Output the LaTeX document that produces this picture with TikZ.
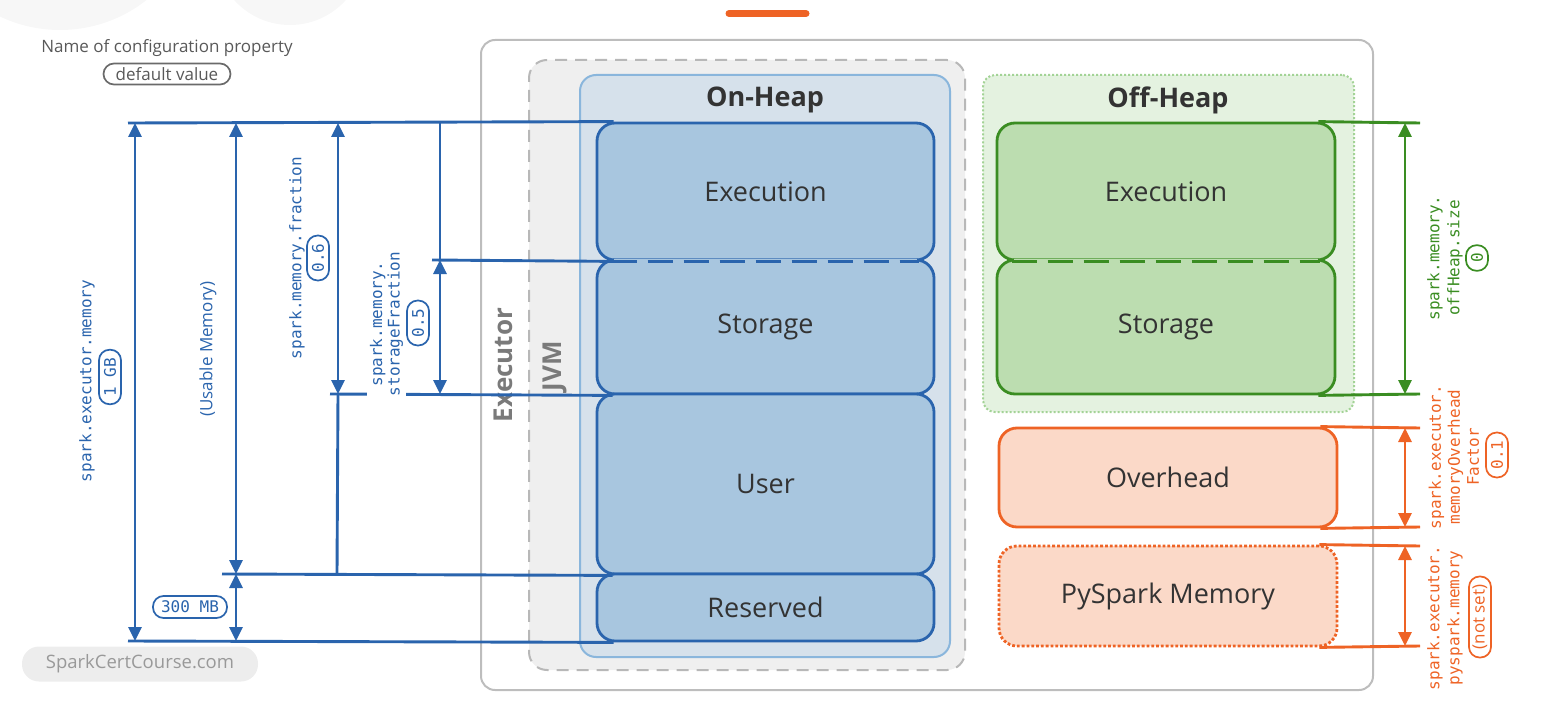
\documentclass[tikz,border=0pt]{standalone}
\usepackage{fontspec}
\setmainfont{Open Sans}
\setmonofont{DejaVu Sans Mono}
\usetikzlibrary{arrows.meta}
\definecolor{bstroke}{HTML}{2A64AD}
\definecolor{bfill}{HTML}{A8C6DF}
\definecolor{onfill}{HTML}{D6E1EB}
\definecolor{onstroke}{HTML}{8AB6DC}
\definecolor{jvmfill}{HTML}{EFEFEF}
\definecolor{jvmstroke}{HTML}{B8B8B8}
\definecolor{exstroke}{HTML}{BDBDBD}
\definecolor{gstroke}{HTML}{3A8D22}
\definecolor{gfill}{HTML}{BCDDB0}
\definecolor{offfill}{HTML}{E4F2E0}
\definecolor{offstroke}{HTML}{A3D396}
\definecolor{ostroke}{HTML}{EE6325}
\definecolor{ofill}{HTML}{FBD9C8}
\definecolor{txt}{HTML}{333333}
\definecolor{lbl}{HTML}{7A7A7A}
\definecolor{legtxt}{HTML}{595959}
\tikzset{
  memblk/.style={draw, line width=2.8pt, rounded corners=18pt, text=txt,
    font=\fontsize{27}{30}\selectfont, inner sep=0pt},
  heading/.style={text=txt, font=\bfseries\fontsize{27}{30}\selectfont},
  sidelbl/.style={text=lbl, font=\bfseries\fontsize{26}{30}\selectfont, rotate=90},
  dimline/.style={line width=2.9pt},
  dimarrow/.style={line width=2.9pt,
    {Triangle[width=13pt,length=14pt]}-{Triangle[width=13pt,length=14pt]}},
  rlbl/.style={rotate=90, align=center, font=\ttfamily\fontsize{16}{19}\selectfont, inner sep=1pt},
  pill/.style={draw, fill=white, line width=1.7pt, rounded corners=10.5pt, inner xsep=8pt,
    inner ysep=2pt, minimum height=22pt, font=\ttfamily\fontsize{16}{16}\selectfont},
  spill/.style={pill, font=\fontsize{17}{18}\selectfont},
  junction/.style={dash pattern=on 25pt off 11pt, line width=2.8pt}
}
\begin{document}
\begin{tikzpicture}[x=1pt,y=-1pt]
\useasboundingbox (0,0) rectangle (1543,706);
% faint background artefacts
\fill[black!3] (60,-110) circle (140);
\fill[black!3] (290,-50) circle (75);
% top orange bar
\coordinate (barL) at (729,13.5);
\coordinate (barR) at (806,13.5);
\draw[ostroke, line width=7pt, line cap=round] (barL) -- (barR);
% legend
\node[text=legtxt, font=\fontsize{17}{19}\selectfont] (legname) at (167,48) {Name of configuration property};
\node[spill, draw=legtxt!90, text=legtxt, minimum width=127pt, minimum height=21pt, inner xsep=4pt] (legval) at (167,74) {default value};
% watermark
\node[fill=black!7, rounded corners=17pt, minimum width=236pt, minimum height=35pt,
  text=black!40, font=\fontsize{18.5}{20}\selectfont] (wm) at (140,664) {SparkCertCourse.com};
% executor, jvm, on-heap containers
\draw[exstroke, line width=2pt, rounded corners=14pt] (481,40) rectangle (1373,690);
\node[draw=jvmstroke, fill=jvmfill, dash pattern=on 12pt off 8pt, line width=2pt, rounded corners=18pt,
  minimum width=436pt, minimum height=610pt] (jvm) at (747,365) {};
\node[sidelbl] (exlbl) at (503,365) {Executor};
\node[sidelbl] (jvmlbl) at (555,366) {JVM};
\node[draw=onstroke, fill=onfill, line width=2pt, rounded corners=16pt,
  minimum width=370pt, minimum height=582pt] (onheap) at (765,366) {};
\node[heading] (onlbl) at (765,100) {On-Heap};
\node[draw=offstroke, fill=offfill, dotted, line width=2pt, rounded corners=12pt,
  minimum width=371pt, minimum height=337pt] (offheap) at (1168.5,243.5) {};
\node[heading] (offlbl) at (1168,100) {Off-Heap};
% left horizontal reference lines (behind blocks)
\coordinate (h0) at (128,123);
\coordinate (h1) at (432,260);
\coordinate (h2) at (330,394);
\coordinate (h3) at (222,574);
\coordinate (h4) at (128,641);
% on-heap blocks
\node[memblk, draw=bstroke, fill=bfill, minimum width=337pt, minimum height=137pt] (exe) at (765.5,191.5) {Execution};
\node[memblk, draw=bstroke, fill=bfill, minimum width=337pt, minimum height=134pt] (sto) at (765.5,327) {Storage};
\node[memblk, draw=bstroke, fill=bfill, minimum width=337pt, minimum height=180pt] (usr) at (765.5,484) {User};
\node[memblk, draw=bstroke, fill=bfill, minimum width=337pt, minimum height=67pt] (res) at (765.5,607.5) {Reserved};
\draw[bfill, line width=4.5pt] ([xshift=18pt]exe.south west) -- ([xshift=-18pt]exe.south east);
\draw[bstroke, junction] ([xshift=16pt]exe.south west) -- ([xshift=-16pt]exe.south east);
\draw[bstroke, dimline] (h0) -- ([xshift=18pt]exe.north west);
\draw[bstroke, dimline] (h1) -- ([xshift=17pt]exe.south west);
\draw[bstroke, dimline] (h2) -- ([xshift=17pt]sto.south west);
\draw[bstroke, dimline] (h3) -- ([xshift=17pt]usr.south west);
\draw[bstroke, dimline] (h4) -- ([xshift=18pt]res.south west);
% off-heap blocks
\node[memblk, draw=gstroke, fill=gfill, minimum width=338pt, minimum height=137pt] (gexe) at (1166,191.5) {Execution};
\node[memblk, draw=gstroke, fill=gfill, minimum width=338pt, minimum height=134pt] (gsto) at (1166,327) {Storage};
\draw[gfill, line width=4.5pt] ([xshift=18pt]gexe.south west) -- ([xshift=-18pt]gexe.south east);
\draw[gstroke, junction] ([xshift=16pt]gexe.south west) -- ([xshift=-16pt]gexe.south east);
\node[memblk, draw=ostroke, fill=ofill, minimum width=338pt, minimum height=99pt] (ovh) at (1168,477.5) {Overhead};
\node[memblk, draw=ostroke, fill=ofill, dotted, minimum width=338pt, minimum height=100pt] (pys) at (1168,596) {PySpark Memory};
% right reference lines
\coordinate (g0) at (1420,123);
\coordinate (g1) at (1420,394);
\coordinate (o0) at (1420,428);
\coordinate (o1) at (1420,527);
\coordinate (p0) at (1420,546);
\coordinate (p1) at (1420,646);
\draw[gstroke, dimline] ([xshift=-18pt]gexe.north east) -- (g0);
\draw[gstroke, dimline] ([xshift=-18pt]gsto.south east) -- (g1);
\draw[ostroke, dimline] ([xshift=-18pt]ovh.north east) -- (o0);
\draw[ostroke, dimline] ([xshift=-18pt]ovh.south east) -- (o1);
\draw[ostroke, dimline] ([xshift=-19pt]pys.north east) -- (p0);
\draw[ostroke, dimline] ([xshift=-19pt]pys.south east) -- (p1);
% left dimension arrows
\coordinate (a1t) at (135,123); \coordinate (a1b) at (135,641);
\coordinate (a2t) at (236,123); \coordinate (a2b) at (236,574); \coordinate (a3b) at (236,641);
\coordinate (a4t) at (338,123); \coordinate (a4b) at (338,394); \coordinate (a4e) at (337,574);
\coordinate (a5t) at (440,123); \coordinate (a5m) at (440,260); \coordinate (a5b) at (440,394);
\draw[bstroke, dimarrow] (a1t) -- (a1b);
\draw[bstroke, dimarrow] (a2t) -- (a2b);
\draw[bstroke, dimarrow] (a2b) -- (a3b);
\draw[bstroke, dimarrow] (a4t) -- (a4b);
\draw[bstroke, dimline] (a4b) -- (a4e);
\draw[bstroke, dimline] (a5t) -- (a5m);
\draw[bstroke, dimarrow] (a5m) -- (a5b);
% right dimension arrows
\coordinate (r1t) at (1405,123); \coordinate (r1b) at (1405,394);
\coordinate (r2t) at (1405,428); \coordinate (r2b) at (1405,527);
\coordinate (r3t) at (1405,546); \coordinate (r3b) at (1405,646);
\draw[gstroke, dimarrow] (r1t) -- (r1b);
\draw[ostroke, dimarrow] (r2t) -- (r2b);
\draw[ostroke, dimarrow] (r3t) -- (r3b);
% left labels
\node[rlbl, text=bstroke] (lexm) at (87,381) {spark.executor.memory};
\node[pill, draw=bstroke, text=bstroke, rotate=90] (pexm) at (110,377) {1 GB};
\node[rotate=90, text=bstroke, font=\fontsize{17}{18}\selectfont] (lusable) at (208,349) {(Usable Memory)};
\node[pill, draw=bstroke, text=bstroke, minimum width=74pt] (p300) at (190,607) {300 MB};
\node[rlbl, text=bstroke] (lfrac) at (297,258) {spark.memory.fraction};
\node[pill, draw=bstroke, text=bstroke, rotate=90] (pfrac) at (318,258) {0.6};
\node[rlbl, text=bstroke, fill=white, inner sep=3pt, font=\ttfamily\fontsize{16}{17.5}\selectfont] (lsf) at (386.5,324) {spark.memory.\\storageFraction};
\node[pill, draw=bstroke, text=bstroke, rotate=90] (psf) at (418,323) {0.5};
% right labels
\node[rlbl, text=gstroke, font=\ttfamily\fontsize{16}{20}\selectfont] (loff) at (1445,258) {spark.memory.\\offHeap.size};
\node[pill, draw=gstroke, text=gstroke, rotate=90] (poff) at (1477,258) {0};
\node[rlbl, text=ostroke] (lovh) at (1454,457) {spark.executor.\\memoryOverhead\\Factor};
\node[pill, draw=ostroke, text=ostroke, rotate=90] (povh) at (1497,455) {0.1};
\node[rlbl, text=ostroke, font=\ttfamily\fontsize{16}{20}\selectfont] (lpys) at (1445,618) {spark.executor.\\pyspark.memory};
\node[spill, draw=ostroke, text=ostroke, rotate=90, inner xsep=7pt, minimum width=81pt] (ppys) at (1480,617) {(not set)};
\end{tikzpicture}
\end{document}
